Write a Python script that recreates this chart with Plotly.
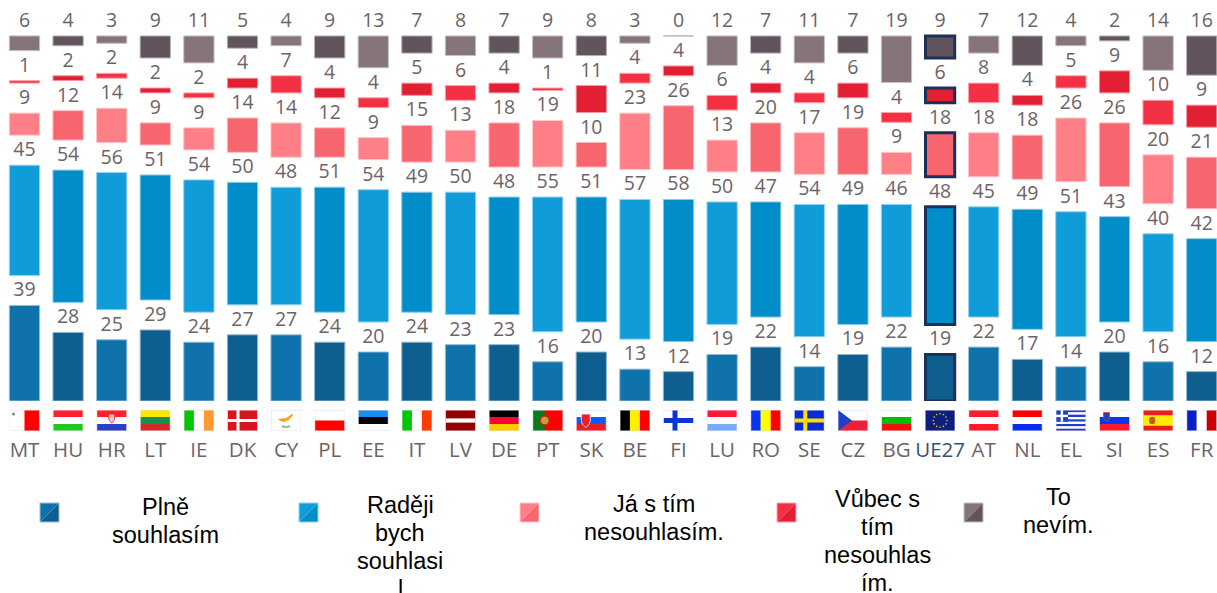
import base64
import math
import plotly.graph_objects as go

countries = ["MT","HU","HR","LT","IE","DK","CY","PL","EE","IT","LV","DE","PT","SK","BE","FI","LU","RO","SE","CZ","BG","UE27","AT","NL","EL","SI","ES","FR"]
plne_souhlasim = [39,28,25,29,24,27,27,24,20,24,23,23,16,20,13,12,19,22,14,19,22,19,22,17,14,20,16,12]
radeji_souhlasil = [45,54,56,51,54,50,48,51,54,49,50,48,55,51,57,58,50,47,54,49,46,48,45,49,51,43,40,42]
nesouhlasim = [9,12,14,9,9,14,14,12,9,15,13,18,19,10,23,26,13,20,17,19,9,18,18,18,26,26,20,21]
vubec_nesouhlasim = [1,2,2,2,2,4,7,4,4,5,6,4,1,11,4,4,6,4,4,6,4,6,8,4,5,9,10,9]
nevim = [6,4,3,9,11,5,4,9,13,7,8,7,9,8,3,0,12,7,11,7,19,9,7,12,4,2,14,16]

W, H = 1217, 593
PITCH = 43.6
BASE_PX = 401
PX_PER_UNIT = 2.45
GAP = 12.25
HIGHLIGHT = "UE27"
NAVY = "#1b3157"
TEXT = "#6d6367"

series = [
    ("Plně souhlasím", plne_souhlasim, "#0f72ab", "#0e5f8f"),
    ("Raději bych souhlasil", radeji_souhlasil, "#109cd8", "#008dca"),
    ("Já s tím nesouhlasím.", nesouhlasim, "#ff7f87", "#f7656f"),
    ("Vůbec s tím nesouhlasím.", vubec_nesouhlasim, "#f43144", "#e31f33"),
    ("To nevím.", nevim, "#857578", "#62545d"),
]


def tint(c, f=0.55):
    r, g, b = (int(c[i:i + 2], 16) for i in (1, 3, 5))
    return "#%02x%02x%02x" % tuple(int(v + (255 - v) * f) for v in (r, g, b))


n = len(countries)
fig = go.Figure()
running = [0.0] * n
for name, vals, light, dark in series:
    cols = [light if i % 2 == 0 else dark for i in range(n)]
    lines = [NAVY if c == HIGHLIGHT else tint(cols[i]) for i, c in enumerate(countries)]
    widths = [3 if c == HIGHLIGHT else 1 for c in countries]
    bar_w = [0.67 if c == HIGHLIGHT else 0.695 for c in countries]
    fig.add_bar(
        name=name, x=list(range(n)), y=vals, base=list(running), width=bar_w,
        marker=dict(color=cols, line=dict(color=lines, width=widths)),
        text=[str(v) for v in vals], textposition="outside", constraintext="none",
        cliponaxis=False, textfont=dict(family="Open Sans", size=19.5, color=TEXT),
        showlegend=False,
    )
    running = [r + v + GAP for r, v in zip(running, vals)]


# ---------- flags as small inline SVG pictures ----------
def h(*c):
    s = 21 / len(c)
    return "".join(f'<rect x="0" y="{i*s}" width="30" height="{s+0.1}" fill="{k}"/>' for i, k in enumerate(c))


def v(*c):
    s = 30 / len(c)
    return "".join(f'<rect x="{i*s}" y="0" width="{s+0.1}" height="21" fill="{k}"/>' for i, k in enumerate(c))


def nordic(bg, cr, w=4):
    return (f'<rect width="30" height="21" fill="{bg}"/><rect x="9" width="{w}" height="21" fill="{cr}"/>'
            f'<rect y="{10.5-w/2}" width="30" height="{w}" fill="{cr}"/>')


def shield(x, y, s, fill="#fff", stroke="#d22"):
    return f'<path d="M{x} {y}h{s}v{s*.7}q0 {s*.5} -{s/2} {s*.8}q-{s/2} -{s*.3} -{s/2} -{s*.8}z" fill="{fill}" stroke="{stroke}" stroke-width="0.8"/>'


gr = h("#1f3fd0", "#fff", "#1f3fd0", "#fff", "#1f3fd0", "#fff", "#1f3fd0", "#fff", "#1f3fd0") + \
     '<rect width="12" height="11.7" fill="#1f3fd0"/><rect x="4.8" width="2.4" height="11.7" fill="#fff"/><rect y="4.7" width="12" height="2.4" fill="#fff"/>'
eu = '<rect width="30" height="21" fill="#0b1f80"/>' + "".join(
    f'<circle cx="{15+6.8*math.cos(a*math.pi/6):.2f}" cy="{10.5+6.8*math.sin(a*math.pi/6):.2f}" r="0.8" fill="#f2c811"/>'
    for a in range(12))
flags = {
    "MT": v("#fff", "#ff0000") + '<circle cx="4" cy="4" r="1.6" fill="#888"/>',
    "HU": h("#ff1f2f", "#fff", "#22c822"),
    "HR": h("#ff1f2f", "#fff", "#2b3fc8") + shield(12, 4, 6, "#f4c4c4", "#d22"),
    "LT": h("#ffe600", "#149050", "#d22a2a"),
    "IE": v("#00c800", "#fff", "#ff9a33"),
    "DK": nordic("#d8141e", "#fff", 3),
    "CY": '<rect width="30" height="21" fill="#fff"/><path d="M7 9l8-1 6-4 1 1-4 5-5 2-4-1z" fill="#f0a820"/><path d="M11 16q4 2 8 0" stroke="#8cc48c" stroke-width="2" fill="none"/>',
    "PL": h("#fff", "#ff0000"),
    "EE": h("#1a8cf0", "#000", "#fff"),
    "IT": v("#00c800", "#fff", "#ff3c00"),
    "LV": '<rect width="30" height="21" fill="#960000"/><rect y="8.4" width="30" height="4.2" fill="#fff"/>',
    "DE": h("#000", "#ff0033", "#ffcc00"),
    "PT": v("#0a7a1e", "#ff0000") + '<rect x="12" width="18" height="21" fill="#ff0000"/><circle cx="12" cy="10.5" r="4.5" fill="#c8a030" stroke="#b03020" stroke-width="1.5"/>',
    "SK": h("#fff", "#0a5cff", "#ee1c25") + shield(5, 4, 9, "#ee1c25", "#fff"),
    "BE": v("#000", "#ffee00", "#ff0000"),
    "FI": nordic("#fff", "#0a35d0", 5),
    "LU": h("#ff1a3c", "#fff", "#78a8ff"),
    "RO": v("#0a35f0", "#ffff00", "#ff0000"),
    "SE": nordic("#0a2ad8", "#ffe000", 4),
    "CZ": h("#fff", "#ee2038") + '<path d="M0 0L14 10.5L0 21z" fill="#1f3fc8"/>',
    "BG": h("#fff", "#00c000", "#ee1111"),
    "UE27": eu,
    "AT": h("#ff1a2e", "#fff", "#ff1a2e"),
    "NL": h("#ff0000", "#fff", "#0a2cf0"),
    "EL": gr,
    "SI": h("#fff", "#0a35f0", "#ff1a2e") + shield(4, 2.5, 6, "#1a45c0", "#e33"),
    "ES": '<rect width="30" height="21" fill="#ee1c1c"/><rect y="5.25" width="30" height="10.5" fill="#ffee00"/><rect x="6" y="7" width="6" height="7" rx="2" fill="#d0501e"/>',
    "FR": v("#0a1ec8", "#fff", "#cc0000"),
}

images = []
for i, c in enumerate(countries):
    svg = (f'<svg xmlns="http://www.w3.org/2000/svg" width="30" height="21" viewBox="0 0 30 21">{flags[c]}'
           f'<rect x="0.25" y="0.25" width="29.5" height="20.5" fill="none" stroke="#e3dcdc" stroke-width="0.5"/></svg>')
    images.append(dict(
        source="data:image/svg+xml;base64," + base64.b64encode(svg.encode()).decode(),
        xref="x", yref="paper", x=i, y=1 - 410 / H, sizex=30 / PITCH, sizey=21 / H,
        xanchor="center", yanchor="top", sizing="stretch", layer="above",
    ))


# ---------- legend ----------
def px(x):
    return x / W


def py(y):
    return 1 - y / H


legend = [
    (40, 0, 165, ["Plně", "souhlasím"], 507),
    (299, 1, 400, ["Raději", "bych", "souhlasi", "l"], 505),
    (520, 2, 654, ["Já s tím", "nesouhlasím."], 504),
    (777, 3, 877, ["Vůbec s", "tím", "nesouhlas", "ím."], 499),
    (964, 4, 1058, ["To", "nevím."], 497),
]
shapes, annots = [], []
for x0, si, cx, lines_, y0 in legend:
    _, _, light, dark = series[si]
    x1, t, b = x0 + 19, 503, 522
    shapes.append(dict(type="path", xref="paper", yref="paper", fillcolor=light, line_width=0,
                       path=f"M{px(x0)} {py(t)}L{px(x1)} {py(t)}L{px(x0)} {py(b)}Z"))
    shapes.append(dict(type="path", xref="paper", yref="paper", fillcolor=dark, line_width=0,
                       path=f"M{px(x1)} {py(t)}L{px(x1)} {py(b)}L{px(x0)} {py(b)}Z"))
    shapes.append(dict(type="rect", xref="paper", yref="paper", x0=px(x0), x1=px(x1), y0=py(b), y1=py(t),
                       line=dict(color=tint(light), width=1)))
    for j, ln in enumerate(lines_):
        annots.append(dict(text=ln, xref="paper", yref="paper", x=px(cx), y=py(y0 + j * 28),
                           xanchor="center", yanchor="middle", showarrow=False,
                           font=dict(family="Liberation Sans", size=23.5, color="#000")))

ticktext = [f'<span style="color:#34507a">{c}</span>' if c == HIGHLIGHT else c for c in countries]
x_lo = -24.5 / PITCH
fig.update_layout(
    width=W, height=H, margin=dict(l=0, r=0, t=0, b=0), autosize=False,
    paper_bgcolor="#fff", plot_bgcolor="#fff", barmode="overlay",
    shapes=shapes, annotations=annots, images=images,
    xaxis=dict(range=[x_lo, x_lo + W / PITCH], tickmode="array", tickvals=list(range(n)), ticktext=ticktext,
               showgrid=False, zeroline=False, showline=False, ticks="outside", ticklen=30,
               tickcolor="rgba(0,0,0,0)", tickfont=dict(family="Open Sans", size=20.5, color=TEXT)),
    yaxis=dict(domain=[1 - BASE_PX / H, 1], range=[0, BASE_PX / PX_PER_UNIT], visible=False),
)
fig.write_html("out.html", config=dict(displayModeBar=False),
               post_script="document.body.style.margin='0';document.body.style.overflow='hidden';")
